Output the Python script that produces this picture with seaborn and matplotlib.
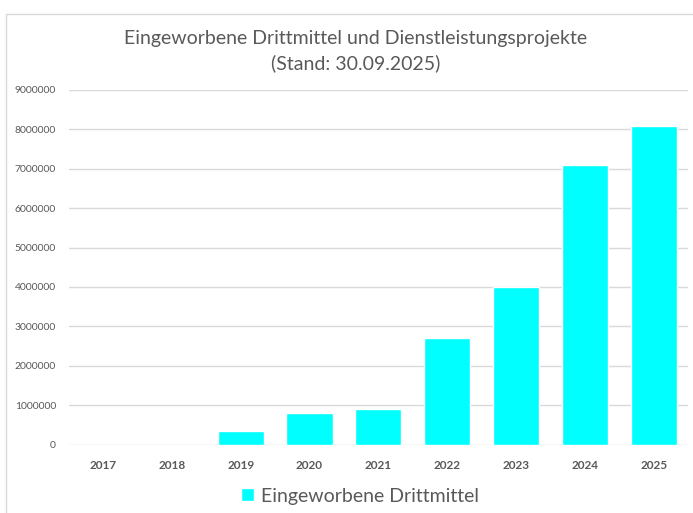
import pandas as pd
import numpy as np
import matplotlib.pyplot as plt
import seaborn as sns
from matplotlib.patches import Rectangle

# Data
years = ['2017', '2018', '2019', '2020', '2021', '2022', '2023', '2024', '2025']
drittmittel = [0, 0, 350000, 800000, 900000, 2710000, 4000000, 7090000, 8080000]

df = pd.DataFrame({'Jahr': years, 'Eingeworbene Drittmittel': drittmittel})

sns.set_theme(style='white')
plt.rcParams['font.family'] = ['Lato', 'DejaVu Sans']

grey = '#595959'
fig = plt.figure(figsize=(6.93, 5.13), dpi=100)
ax = fig.add_axes([0.099, 0.133, 0.894, 0.692])

sns.barplot(data=df, x='Jahr', y='Eingeworbene Drittmittel', color='#00FFFF',
            saturation=1, width=0.67, ax=ax, label='Eingeworbene Drittmittel')

ax.set_ylim(0, 9000000)
ax.set_yticks(np.arange(0, 9000001, 1000000))
ax.set_yticklabels([str(v) for v in range(0, 9000001, 1000000)], fontsize=7.5, color=grey)
ax.tick_params(axis='x', labelsize=8.5, colors=grey, length=0, pad=11)
ax.tick_params(axis='y', length=0, pad=9)
for lbl in ax.get_xticklabels():
    lbl.set_fontweight('bold')
ax.yaxis.grid(True, color='#d9d9d9', linewidth=1)
ax.set_axisbelow(True)
for s in ax.spines.values():
    s.set_visible(False)
ax.set_xlabel('')
ax.set_ylabel('')

fig.text(0.513, 0.925, 'Eingeworbene Drittmittel und Dienstleistungsprojekte',
         ha='center', va='center', fontsize=14, color=grey)
fig.text(0.513, 0.876, '(Stand: 30.09.2025)',
         ha='center', va='center', fontsize=14, color=grey)

leg = ax.legend(loc='center', bbox_to_anchor=(0.47, -0.145), frameon=False,
                fontsize=14, handlelength=0.65, handleheight=0.65, handletextpad=0.35)
for t in leg.get_texts():
    t.set_color(grey)

# chart border
fig.patches.append(Rectangle((6 / 693, -0.01), 1.0, 1 - 14 / 513 + 0.01,
                             transform=fig.transFigure, fill=False,
                             edgecolor='#d9d9d9', linewidth=1))

plt.savefig('out.png', dpi=100)
